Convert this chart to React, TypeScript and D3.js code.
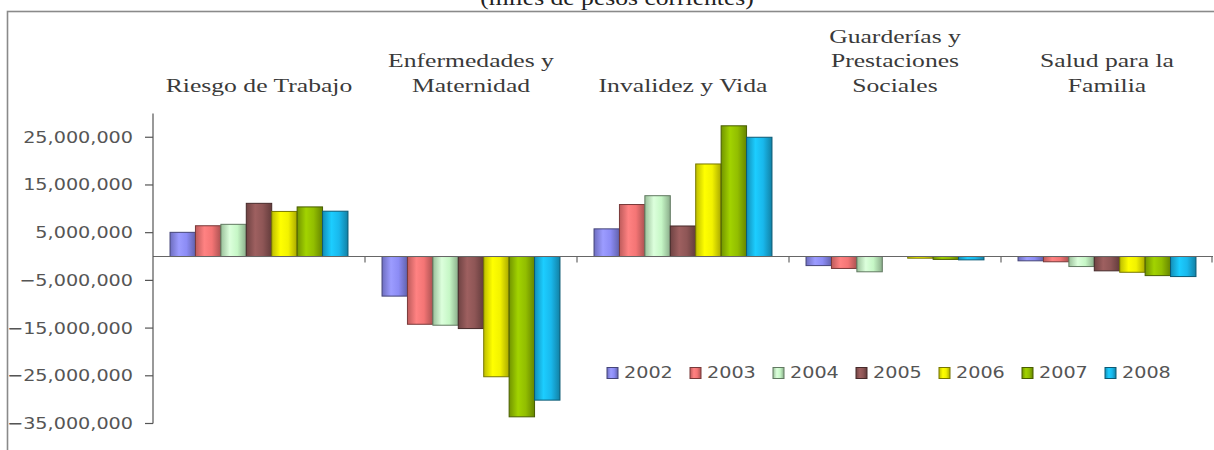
import React from "react";
import * as d3 from "d3";

// Balance by insurance branch, thousands of current pesos
const categories: string[][] = [
  ["Riesgo de Trabajo"],
  ["Enfermedades y", "Maternidad"],
  ["Invalidez y Vida"],
  ["Guarderías y", "Prestaciones", "Sociales"],
  ["Salud para la", "Familia"],
];

const years = ["2002", "2003", "2004", "2005", "2006", "2007", "2008"];

const s2002 = [5070000, -8300000, 5800000, -1900000, -900000];
const s2003 = [6450000, -14200000, 10900000, -2500000, -1100000];
const s2004 = [6750000, -14400000, 12750000, -3200000, -2100000];
const s2005 = [11150000, -15100000, 6400000, 0, -3000000];
const s2006 = [9450000, -25200000, 19400000, -350000, -3300000];
const s2007 = [10400000, -33600000, 27400000, -600000, -4000000];
const s2008 = [9500000, -30100000, 25000000, -700000, -4200000];

const series = [s2002, s2003, s2004, s2005, s2006, s2007, s2008];

const yearColors = ["#8C8CF5", "#F47575", "#C6F7C6", "#8E5656", "#F2F200", "#92BE00", "#19B8EC"];

const yTicks = [25000000, 15000000, 5000000, -5000000, -15000000, -25000000, -35000000];

const W = 1214;
const H = 450;

export default function App() {
  const x0 = d3.scaleBand<number>().domain(d3.range(categories.length)).range([153, 1213]);
  const x1 = d3
    .scaleBand<string>()
    .domain(years)
    .range([0, x0.bandwidth()])
    .paddingInner(0)
    .paddingOuter(0.67);
  const y = d3.scaleLinear().domain([-35000000, 30000000]).range([423.5, 113.4]);
  const fmt = d3.format(",");
  const zeroY = y(0);
  const axisX = 153;

  const serif = "'Liberation Serif', 'Times New Roman', serif";
  const sans = "'DejaVu Sans', Verdana, sans-serif";

  return (
    <div style={{ position: "fixed", left: 0, top: 0 }}>
      <svg width={W} height={H} style={{ display: "block", background: "#fff" }}>
        <defs>
          {yearColors.map((c, i) => {
            const base = d3.color(c)!;
            return (
              <linearGradient key={i} id={`g${i}`} x1="0" y1="0" x2="1" y2="0">
                <stop offset="0%" stopColor={base.darker(0.7).formatHex()} />
                <stop offset="35%" stopColor={base.brighter(0.3).formatHex()} />
                <stop offset="65%" stopColor={c} />
                <stop offset="100%" stopColor={base.darker(1).formatHex()} />
              </linearGradient>
            );
          })}
        </defs>

        {/* subtitle, running off the top edge */}
        <text
          x={617}
          y={5}
          textAnchor="middle"
          fontFamily={serif}
          fontSize={21}
          fill="#222"
          transform="translate(617,0) scale(1.22,1) translate(-617,0)"
        >
          (miles de pesos corrientes)
        </text>

        {/* chart frame */}
        <rect x={7.5} y={11.5} width={W + 20} height={H + 20} fill="none" stroke="#8a8a8a" strokeWidth={1.6} />

        {/* category headers */}
        {categories.map((lines, ci) => {
          const cx = x0(ci)! + x0.bandwidth() / 2;
          const lastBase = 92;
          return (
            <text
              key={ci}
              fontFamily={serif}
              fontSize={19}
              fill="#3a3a3a"
              textAnchor="middle"
              transform={`translate(${cx},0) scale(1.35,1)`}
            >
              {lines.map((ln, li) => (
                <tspan key={li} x={0} y={lastBase - (lines.length - 1 - li) * 24.5}>
                  {ln}
                </tspan>
              ))}
            </text>
          );
        })}

        {/* bars */}
        {series.map((vals, si) =>
          vals.map((v, ci) => {
            const bx = x0(ci)! + x1(years[si])!;
            const top = Math.min(y(v), zeroY);
            const h = Math.abs(y(v) - zeroY);
            return (
              <rect
                key={`${si}-${ci}`}
                x={bx}
                y={top}
                width={x1.bandwidth()}
                height={h}
                fill={`url(#g${si})`}
                stroke={d3.color(yearColors[si])!.darker(2).formatHex()}
                strokeWidth={1}
              />
            );
          })
        )}

        {/* zero line with category separators */}
        <line x1={axisX} x2={1213} y1={zeroY} y2={zeroY} stroke="#666" strokeWidth={1.2} />
        {d3.range(1, categories.length + 1).map((i) => {
          const tx = i === categories.length ? 1212 : x0(i)!;
          return <line key={i} x1={tx} x2={tx} y1={zeroY} y2={zeroY + 6} stroke="#666" strokeWidth={1.2} />;
        })}

        {/* value axis */}
        <line x1={axisX} x2={axisX} y1={y(30000000)} y2={y(-35000000)} stroke="#555" strokeWidth={1.2} />
        {yTicks.map((t) => (
          <g key={t}>
            <line x1={axisX - 8} x2={axisX} y1={y(t)} y2={y(t)} stroke="#555" strokeWidth={1.2} />
            <text
              fontFamily={sans}
              fontSize={16}
              fill="#555"
              textAnchor="end"
              dominantBaseline="central"
              transform={`translate(133,${y(t)}) scale(1.2,1)`}
            >
              {fmt(t)}
            </text>
          </g>
        ))}

        {/* legend */}
        {years.map((yr, i) => {
          const lx = 607 + i * 83;
          const ly = 373;
          return (
            <g key={yr}>
              <rect
                x={lx}
                y={ly - 5.5}
                width={11}
                height={11}
                fill={`url(#g${i})`}
                stroke={d3.color(yearColors[i])!.darker(2).formatHex()}
              />
              <text
                fontFamily={sans}
                fontSize={16}
                fill="#555"
                dominantBaseline="central"
                transform={`translate(${lx + 17},${ly}) scale(1.2,1)`}
              >
                {yr}
              </text>
            </g>
          );
        })}
      </svg>
    </div>
  );
}
